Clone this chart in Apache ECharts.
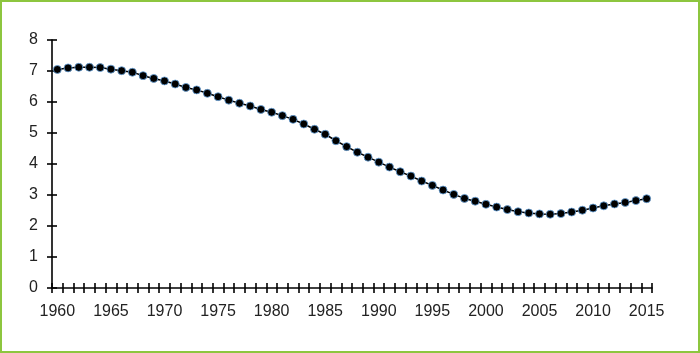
<!DOCTYPE html>
<html>
<head>
<meta charset="utf-8">
<script src="https://cdn.jsdelivr.net/npm/echarts@6/dist/echarts.min.js"></script>
<style>
  html, body { margin: 0; padding: 0; background: #fff; }
  #chart { width: 700px; height: 353px; box-sizing: border-box; border: 2px solid #8dc63f; }
</style>
</head>
<body>
<div id="chart"></div>
<script>
// years 1960..2015
const years = [];
for (let y = 1960; y <= 2015; y++) years.push(String(y));

const values = [
  7.05, 7.10, 7.12, 7.12, 7.11, 7.06, 7.01, 6.96, 6.85, 6.76,
  6.68, 6.58, 6.47, 6.39, 6.28, 6.17, 6.06, 5.96, 5.87, 5.76,
  5.67, 5.56, 5.44, 5.29, 5.12, 4.96, 4.75, 4.56, 4.38, 4.22,
  4.06, 3.90, 3.75, 3.61, 3.45, 3.31, 3.16, 3.02, 2.89, 2.80,
  2.70, 2.61, 2.53, 2.46, 2.42, 2.39, 2.38, 2.40, 2.45, 2.51,
  2.58, 2.65, 2.71, 2.76, 2.82, 2.88
];

const yMin = 0, yMax = 8, yStep = 1;

const chart = echarts.init(document.getElementById('chart'), null, { renderer: 'canvas' });

const lineStyle = { color: '#000', width: 1.6 };
const font = { fontFamily: 'Liberation Sans, Arial, sans-serif', fontSize: 16, color: '#222' };

const option = {
  animation: false,
  grid: { left: 50, top: 38, right: 46, bottom: 63 },
  xAxis: [
    {
      type: 'category',
      data: years,
      boundaryGap: true,
      axisLine: { show: true, lineStyle: lineStyle },
      axisTick: { show: true, interval: 0, length: 5, lineStyle: lineStyle },
      axisLabel: Object.assign({ interval: 4, margin: 16 }, font),
      splitLine: { show: false }
    },
    {
      type: 'category',
      data: years,
      boundaryGap: true,
      position: 'bottom',
      axisLine: { show: false },
      axisTick: { show: true, interval: 0, inside: true, length: 5, lineStyle: lineStyle },
      axisLabel: { show: false },
      splitLine: { show: false }
    }
  ],
  yAxis: [
    {
      type: 'value',
      min: yMin, max: yMax, interval: yStep,
      axisLine: { show: true, lineStyle: lineStyle },
      axisTick: { show: true, length: 5, lineStyle: lineStyle },
      axisLabel: Object.assign({ margin: 14 }, font),
      splitLine: { show: false }
    },
    {
      type: 'value',
      min: yMin, max: yMax, interval: yStep,
      position: 'left',
      axisLine: { show: false },
      axisTick: { show: true, inside: true, length: 5, lineStyle: lineStyle },
      axisLabel: { show: false },
      splitLine: { show: false }
    }
  ],
  series: [
    {
      type: 'line',
      data: values,
      symbol: 'circle',
      symbolSize: 8,
      showAllSymbol: true,
      lineStyle: { color: '#000', width: 1.5 },
      itemStyle: { color: '#000', borderColor: '#6aa6e0', borderWidth: 0.8 }
    }
  ]
};

chart.setOption(option);
</script>
</body>
</html>
